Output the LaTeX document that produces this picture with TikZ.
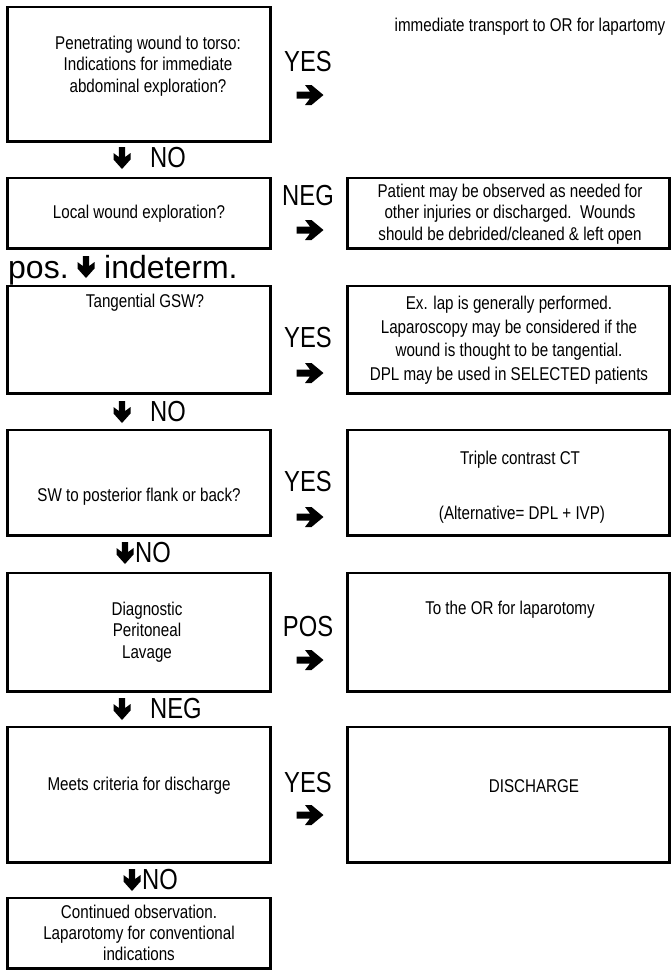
\documentclass[tikz,border=0pt]{standalone}
\usepackage{fontspec}
\setmainfont{Liberation Sans}[FakeStretch=0.82]
\newfontfamily\plainsans{Liberation Sans}
\begin{document}
\begin{tikzpicture}[x=1pt,y=-1pt,
  box/.style={draw, line width=1.2pt, inner sep=0pt},
  heavy/.style={line width=2.2pt, line join=miter},
  txt/.style={align=center, inner sep=0pt, font={\fontsize{18.5}{21.5}\selectfont}},
  lbl/.style={inner sep=0pt, font={\fontsize{29}{30}\selectfont}},
  widelbl/.style={inner sep=0pt, font={\plainsans\fontsize{32}{33}\selectfont}},
  rarr/.pic={\fill (-13.5,-3.5) -- (0,-3.5) -- (-5,-10) -- (1.5,-10) -- (13.5,0)
      -- (1.5,10) -- (-5,10) -- (0,3.5) -- (-13.5,3.5) -- cycle;},
  darr/.pic={\fill (-3.2,-11) -- (3.2,-11) -- (3.2,-1) -- (8.5,-5) -- (8.5,1.5)
      -- (0,11) -- (-8.5,1.5) -- (-8.5,-5) -- (-3.2,-1) -- cycle;}]
\useasboundingbox (0,0) rectangle (671,970);

% decision column
\node[box, minimum width=262pt, minimum height=134pt] (b1) at (139,74) {};
\node[box, minimum width=262pt, minimum height=70pt]  (b2) at (139,213) {};
\node[box, minimum width=262pt, minimum height=107pt] (b3) at (139,339.5) {};
\node[box, minimum width=262pt, minimum height=105pt] (b4) at (139,482.5) {};
\node[box, minimum width=262pt, minimum height=118pt] (b5) at (139,632) {};
\node[box, minimum width=262pt, minimum height=135pt] (b6) at (139,794.5) {};
\node[box, minimum width=262pt, minimum height=70pt]  (b7) at (139,933) {};

% outcome column
\node[box, minimum width=321pt, minimum height=70pt]  (r2) at (508.5,213) {};
\node[box, minimum width=321pt, minimum height=107pt] (r3) at (508.5,339.5) {};
\node[box, minimum width=321pt, minimum height=105pt] (r4) at (508.5,482.5) {};
\node[box, minimum width=321pt, minimum height=118pt] (r5) at (508.5,632) {};
\node[box, minimum width=321pt, minimum height=135pt] (r6) at (508.5,794.5) {};

% heavier left, bottom and right edges
\foreach \n in {b1,b2,b3,b4,b5,b6,b7,r2,r3,r4,r5,r6}
  \draw[heavy] (\n.north west) -- (\n.south west) -- (\n.south east) -- (\n.north east);

% box texts
\node[txt] (t1) at (148,66) {Penetrating wound to torso:\\Indications for immediate\\abdominal exploration?};
\node[txt] (a1) at (530,27) {immediate transport to OR for lapartomy};
\node[txt] (t2) at (139,214) {Local wound exploration?};
\node[txt] (s2) at (510,214) {Patient may be observed as needed for\\other injuries or discharged.\ \ Wounds\\should be debrided/cleaned \& left open};
\node[txt] (t3) at (145,303) {Tangential GSW?};
\node[txt, font={\fontsize{18.5}{23.5}\selectfont}] (s3) at (509,340) {Ex. lap is generally performed.\\Laparoscopy may be considered if the\\wound is thought to be tangential.\\DPL may be used in SELECTED patients};
\node[txt] (t4) at (139,497) {SW to posterior flank or back?};
\node[txt] (s4a) at (520,460) {Triple contrast CT};
\node[txt] (s4b) at (522,515) {(Alternative= DPL + IVP)};
\node[txt] (t5) at (147,632) {Diagnostic\\Peritoneal\\Lavage};
\node[txt] (s5) at (510,610) {To the OR for laparotomy};
\node[txt] (t6) at (139,786) {Meets criteria for discharge};
\node[txt] (s6) at (534,786) {DISCHARGE};
\node[txt, font={\fontsize{18.5}{21}\selectfont}] (t7) at (139,933) {Continued observation.\\Laparotomy for conventional\\indications};

% sideways outcomes
\node[lbl] (y1) at (308,62) {YES};   \pic at (310,95) {rarr};
\node[lbl] (n2) at (308,196) {NEG};  \pic at (310,230) {rarr};
\node[lbl] (y3) at (308,338) {YES};  \pic at (310,373) {rarr};
\node[lbl] (y4) at (308,482) {YES};  \pic at (310,517) {rarr};
\node[lbl] (p5) at (308,627) {POS};  \pic at (310,660) {rarr};
\node[lbl] (y6) at (308,783) {YES};  \pic at (310,815) {rarr};

% downward steps
\pic at (122,158) {darr}; \node[lbl, anchor=west] (d1) at (150,158) {NO};
\node[widelbl, anchor=base west] (d2a) at (8,278) {pos.};
\pic at (86,267) {darr};
\node[widelbl, anchor=base west] (d2b) at (104,278) {indeterm.};
\pic at (122,412) {darr}; \node[lbl, anchor=west] (d3) at (150,412) {NO};
\pic at (125,553) {darr}; \node[lbl, anchor=west] (d4) at (135,553) {NO};
\pic at (122,709) {darr}; \node[lbl, anchor=west] (d5) at (150,709) {NEG};
\pic at (132,880) {darr}; \node[lbl, anchor=west] (d6) at (142,880) {NO};
\end{tikzpicture}
\end{document}
